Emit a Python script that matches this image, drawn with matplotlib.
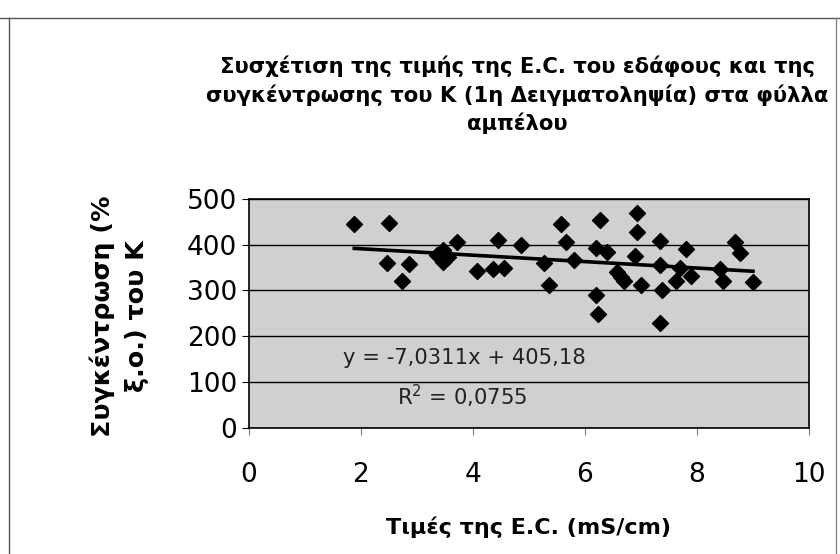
import numpy as np
import matplotlib
matplotlib.use("Agg")
import matplotlib.pyplot as plt
from matplotlib.lines import Line2D

# values
ec_values = [1.88, 2.50, 2.47, 2.86, 2.73, 3.35, 3.47, 3.47, 3.55, 3.71,
             4.07, 4.36, 4.55, 4.45, 4.85, 5.26, 5.36, 5.58, 5.66, 5.81,
             6.27, 6.20, 6.39, 6.20, 6.24, 6.92, 6.92, 6.89, 6.57, 6.65,
             6.70, 7.00, 7.34, 7.34, 7.37, 7.34, 7.70, 7.80, 7.62, 7.90,
             8.41, 8.47, 8.68, 8.77, 9.00]
k_values = [445, 448, 360, 358, 320, 378, 388, 363, 372, 405,
            343, 346, 350, 410, 399, 360, 312, 446, 406, 366,
            453, 392, 385, 290, 248, 470, 428, 376, 341, 330,
            320, 312, 408, 356, 300, 229, 350, 390, 320, 331,
            346, 320, 405, 381, 319]

slope = -7.0311
intercept = 405.18
eq_text = "y = -7,0311x + 405,18"
r2_text = "R$^2$ = 0,0755"

title = ("Συσχέτιση της τιμής της E.C. του εδάφους και της\n"
         "συγκέντρωσης του K (1η Δειγματοληψία) στα φύλλα\n"
         "αμπέλου")
xlabel = "Τιμές της E.C. (mS/cm)"
ylabel = "Συγκέντρωση (%\nξ.ο.) του K"

plt.rcParams['font.family'] = ['DejaVu Sans']
plt.rcParams['mathtext.default'] = 'regular'

fig = plt.figure(figsize=(8.4, 5.54), dpi=100)
ax = fig.add_axes([249/840, 1-427.5/554, 560/840, 228.5/554])
ax.set_facecolor('#d0d0d0')

ax.set_xlim(0, 10)
ax.set_ylim(0, 500)
ax.set_xticks(np.arange(0, 11, 2))
ax.set_yticks(np.arange(0, 501, 100))
ax.yaxis.grid(True, color='black', linewidth=1.0)
ax.set_axisbelow(True)
for s in ax.spines.values():
    s.set_color('black')
    s.set_linewidth(1.2)
ax.tick_params(axis='both', labelsize=19, direction='out', length=5, color='black')
ax.tick_params(axis='x', pad=20, color='#777777')

ax.scatter(ec_values, k_values, marker='D', s=66, color='black', zorder=3)

x_fit = np.array([min(ec_values), max(ec_values)])
ax.plot(x_fit, slope*x_fit + intercept, color='black', linewidth=2.6, zorder=4)

ax.text(1.68, 152, eq_text, va='center', fontsize=15.2, color='#222222')
ax.text(2.64, 69, r2_text, va='center', fontsize=15.2, color='#222222')

ax.set_xlabel(xlabel, fontsize=16, fontweight='bold', labelpad=20)
fig.text(119/840, 1-316/554, ylabel, rotation=90, ha='center', va='center',
         fontsize=18.3, fontweight='bold', linespacing=1.55)

fig.text(517/840, 1-95/554, title, ha='center', va='center', fontsize=15.2,
         fontweight='bold', linespacing=1.4)

# outer chart border
fig.add_artist(Line2D([0, 1], [1-18/554, 1-18/554], color='#555555', linewidth=1.0))
fig.add_artist(Line2D([9/840, 9/840], [0, 1-18/554], color='#555555', linewidth=1.0))
fig.add_artist(Line2D([836/840, 836/840], [0, 1-18/554], color='#888888', linewidth=1.0))

fig.savefig("out.png", dpi=100)
